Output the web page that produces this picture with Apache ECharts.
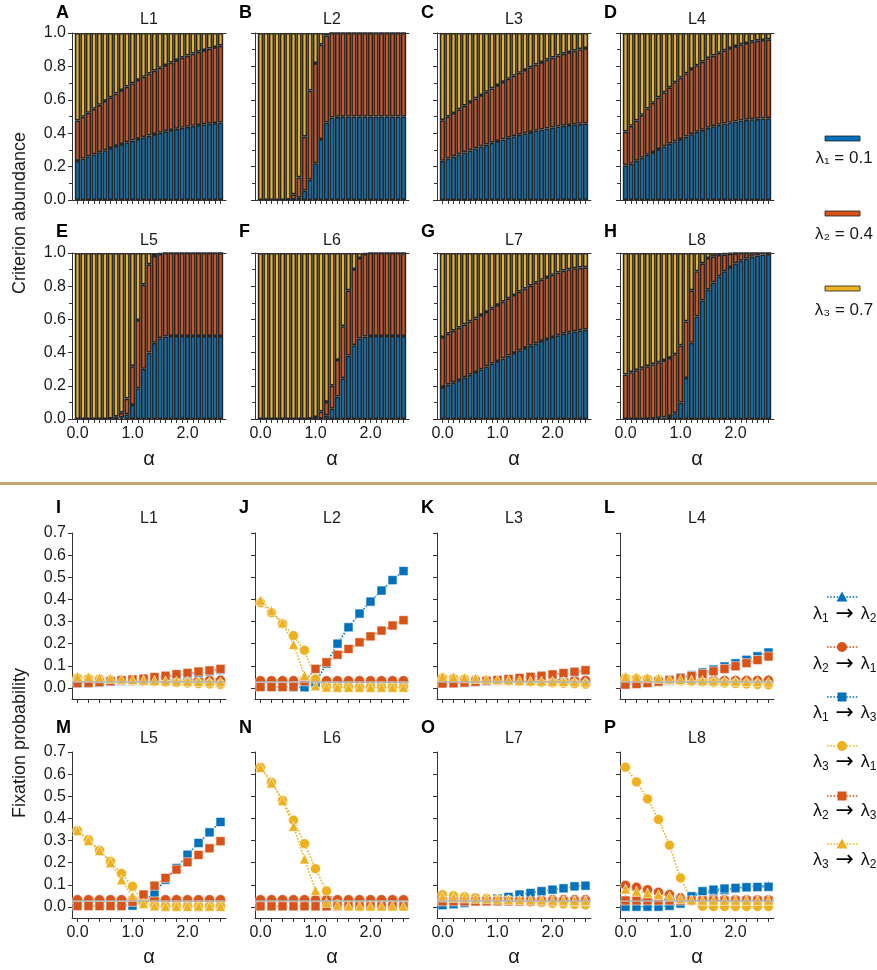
<!DOCTYPE html>
<html><head><meta charset="utf-8">
<script src="https://cdn.jsdelivr.net/npm/echarts@6/dist/echarts.min.js"></script>
<style>html,body{margin:0;padding:0;background:#fff}#c{width:877px;height:970px}</style>
</head><body><div id="c"></div>
<script>
// ---------- x values ----------
const alphaBar = [0.0,0.1,0.2,0.3,0.4,0.5,0.6,0.7,0.8,0.9,1.0,1.1,1.2,1.3,1.4,1.5,1.6,1.7,1.8,1.9,2.0,2.1,2.2,2.3,2.4,2.5,2.6];
const alphaPts = [0.0,0.2,0.4,0.6,0.8,1.0,1.2,1.4,1.6,1.8,2.0,2.2,2.4,2.6];
const xLabelVals = [0, 1, 2];
const fixYTicks = [0, 0.1, 0.2, 0.3, 0.4, 0.5, 0.6, 0.7];
const neutral = 0.025;

// ---------- criterion abundance (share of lambda1, lambda2; lambda3 is the remainder) ----------
const L1_lam1 = [0.234,0.248,0.262,0.274,0.286,0.298,0.311,0.324,0.335,0.346,0.356,0.366,0.376,0.386,0.395,0.403,0.411,0.419,0.426,0.432,0.438,0.444,0.449,0.453,0.457,0.461,0.464];
const L1_lam2 = [0.242,0.250,0.260,0.272,0.284,0.295,0.304,0.313,0.323,0.333,0.343,0.353,0.362,0.371,0.380,0.389,0.397,0.404,0.412,0.420,0.427,0.433,0.439,0.445,0.450,0.455,0.460];
const L2_lam1 = [0,0,0,0,0,0,0.002,0.014,0.056,0.122,0.220,0.365,0.464,0.494,0.498,0.499,0.500,0.500,0.500,0.500,0.500,0.500,0.500,0.500,0.500,0.500,0.500];
const L2_lam2 = [0,0,0,0,0,0.002,0.032,0.121,0.324,0.533,0.600,0.565,0.521,0.506,0.502,0.501,0.500,0.500,0.500,0.500,0.500,0.500,0.500,0.500,0.500,0.500,0.500];
const L3_lam1 = [0.235,0.248,0.261,0.273,0.285,0.297,0.309,0.321,0.332,0.343,0.353,0.363,0.373,0.382,0.391,0.399,0.407,0.415,0.422,0.428,0.434,0.440,0.445,0.449,0.453,0.456,0.458];
const L3_lam2 = [0.243,0.251,0.260,0.270,0.280,0.290,0.299,0.307,0.316,0.325,0.335,0.344,0.353,0.362,0.371,0.380,0.388,0.396,0.404,0.412,0.419,0.425,0.431,0.437,0.442,0.447,0.452];
const L4_lam1 = [0.207,0.217,0.235,0.253,0.271,0.287,0.305,0.321,0.337,0.351,0.365,0.380,0.394,0.408,0.420,0.432,0.442,0.450,0.458,0.464,0.470,0.476,0.480,0.484,0.486,0.488,0.490];
const L4_lam2 = [0.203,0.227,0.241,0.257,0.277,0.295,0.309,0.324,0.338,0.354,0.368,0.379,0.391,0.399,0.409,0.417,0.423,0.431,0.438,0.446,0.452,0.456,0.460,0.464,0.468,0.470,0.472];
const L5_lam1 = [0,0,0,0,0,0,0,0.002,0.008,0.028,0.085,0.185,0.302,0.400,0.459,0.487,0.497,0.500,0.500,0.500,0.500,0.500,0.500,0.500,0.500,0.500,0.500];
const L5_lam2 = [0,0,0,0,0,0,0.002,0.012,0.030,0.095,0.233,0.411,0.507,0.532,0.523,0.507,0.503,0.500,0.500,0.500,0.500,0.500,0.500,0.500,0.500,0.500,0.500];
const L6_lam1 = [0,0,0,0,0,0,0,0,0,0,0,0.003,0.022,0.062,0.135,0.245,0.382,0.445,0.485,0.497,0.500,0.500,0.500,0.500,0.500,0.500,0.500];
const L6_lam2 = [0,0,0,0,0,0,0,0,0,0.002,0.012,0.041,0.081,0.139,0.221,0.314,0.393,0.458,0.485,0.497,0.500,0.500,0.500,0.500,0.500,0.500,0.500];
const L7_lam1 = [0.193,0.207,0.221,0.235,0.251,0.267,0.283,0.299,0.317,0.333,0.349,0.365,0.382,0.398,0.414,0.428,0.442,0.456,0.470,0.482,0.494,0.504,0.514,0.522,0.528,0.534,0.538];
const L7_lam2 = [0.301,0.307,0.311,0.315,0.319,0.321,0.323,0.328,0.328,0.334,0.338,0.342,0.345,0.349,0.353,0.357,0.361,0.365,0.369,0.373,0.375,0.378,0.380,0.380,0.380,0.378,0.376];
const L8_lam1 = [0,0,0,0,0.001,0.002,0.005,0.010,0.018,0.035,0.099,0.247,0.459,0.618,0.714,0.779,0.823,0.860,0.890,0.915,0.937,0.954,0.967,0.977,0.985,0.990,0.994];
const L8_lam2 = [0.268,0.282,0.294,0.306,0.317,0.328,0.337,0.345,0.350,0.355,0.344,0.341,0.316,0.272,0.224,0.191,0.157,0.128,0.102,0.081,0.061,0.046,0.033,0.023,0.015,0.010,0.006];

// ---------- fixation probabilities ----------
const L1_f12 = [0.035,0.035,0.035,0.035,0.035,0.035,0.035,0.036,0.036,0.037,0.037,0.038,0.039,0.040];
const L1_f21 = [0.032,0.032,0.032,0.032,0.033,0.033,0.033,0.033,0.033,0.034,0.034,0.034,0.035,0.035];
const L1_f13 = [0.020,0.021,0.024,0.028,0.032,0.036,0.040,0.045,0.050,0.056,0.062,0.068,0.075,0.082];
const L1_f31 = [0.045,0.042,0.040,0.037,0.035,0.032,0.030,0.028,0.026,0.024,0.022,0.020,0.018,0.016];
const L1_f23 = [0.022,0.023,0.026,0.030,0.035,0.038,0.042,0.049,0.055,0.062,0.068,0.074,0.079,0.086];
const L1_f32 = [0.052,0.049,0.046,0.043,0.040,0.038,0.036,0.034,0.032,0.031,0.030,0.029,0.028,0.027];

const L2_f12 = [0.036,0.036,0.036,0.036,0.036,0.036,0.036,0.036,0.036,0.036,0.036,0.036,0.036,0.036];
const L2_f21 = [0.033,0.033,0.033,0.033,0.033,0.033,0.033,0.033,0.033,0.033,0.033,0.033,0.033,0.033];
const L2_f13 = [0.004,0.004,0.004,0.003,0.003,0.023,0.110,0.200,0.274,0.336,0.390,0.440,0.487,0.528];
const L2_f31 = [0.385,0.340,0.290,0.236,0.170,0.040,0.005,0.004,0.003,0.003,0.003,0.003,0.003,0.003];
const L2_f23 = [0.004,0.004,0.004,0.005,0.030,0.086,0.116,0.150,0.176,0.206,0.233,0.259,0.282,0.306];
const L2_f32 = [0.396,0.349,0.294,0.196,0.056,0.010,0.004,0.003,0.003,0.003,0.003,0.003,0.003,0.003];

const L3_f12 = [0.035,0.035,0.035,0.035,0.035,0.035,0.036,0.036,0.036,0.037,0.037,0.038,0.038,0.039];
const L3_f21 = [0.032,0.032,0.032,0.032,0.033,0.033,0.033,0.033,0.033,0.033,0.034,0.034,0.034,0.034];
const L3_f13 = [0.020,0.021,0.023,0.027,0.031,0.035,0.039,0.043,0.048,0.053,0.059,0.065,0.071,0.078];
const L3_f31 = [0.045,0.043,0.040,0.038,0.035,0.033,0.031,0.029,0.027,0.025,0.023,0.021,0.019,0.017];
const L3_f23 = [0.020,0.021,0.024,0.028,0.032,0.036,0.040,0.045,0.050,0.055,0.061,0.067,0.073,0.080];
const L3_f32 = [0.052,0.049,0.046,0.043,0.040,0.038,0.036,0.034,0.032,0.031,0.030,0.029,0.028,0.027];

const L4_f12 = [0.035,0.035,0.035,0.035,0.035,0.036,0.036,0.037,0.037,0.038,0.038,0.039,0.039,0.040];
const L4_f21 = [0.032,0.032,0.032,0.032,0.033,0.033,0.033,0.033,0.033,0.034,0.034,0.034,0.034,0.035];
const L4_f13 = [0.016,0.019,0.023,0.029,0.037,0.047,0.058,0.070,0.083,0.097,0.111,0.127,0.143,0.160];
const L4_f31 = [0.045,0.042,0.040,0.037,0.034,0.032,0.029,0.027,0.025,0.022,0.020,0.018,0.016,0.014];
const L4_f23 = [0.015,0.018,0.022,0.028,0.036,0.044,0.054,0.064,0.075,0.086,0.098,0.112,0.126,0.142];
const L4_f32 = [0.052,0.049,0.046,0.043,0.040,0.038,0.036,0.034,0.032,0.031,0.030,0.029,0.028,0.027];

const L5_f12 = [0.036,0.036,0.036,0.036,0.036,0.036,0.036,0.036,0.036,0.036,0.036,0.036,0.036,0.036];
const L5_f21 = [0.033,0.033,0.033,0.033,0.033,0.033,0.033,0.033,0.033,0.033,0.033,0.033,0.033,0.033];
const L5_f13 = [0.004,0.004,0.004,0.004,0.004,0.006,0.025,0.066,0.123,0.176,0.236,0.289,0.337,0.384];
const L5_f31 = [0.345,0.304,0.256,0.205,0.151,0.093,0.020,0.005,0.003,0.003,0.003,0.003,0.003,0.003];
const L5_f23 = [0.004,0.004,0.004,0.004,0.004,0.023,0.056,0.096,0.131,0.169,0.202,0.235,0.265,0.297];
const L5_f32 = [0.345,0.300,0.255,0.200,0.123,0.048,0.015,0.005,0.003,0.003,0.003,0.003,0.003,0.003];

const L6_f12 = [0.036,0.036,0.036,0.036,0.036,0.036,0.036,0.036,0.036,0.036,0.036,0.036,0.036,0.036];
const L6_f21 = [0.033,0.033,0.033,0.033,0.033,0.033,0.033,0.033,0.033,0.033,0.033,0.033,0.033,0.033];
const L6_f13 = [0.003,0.003,0.003,0.003,0.003,0.003,0.003,0.003,0.003,0.003,0.003,0.003,0.003,0.003];
const L6_f31 = [0.631,0.563,0.482,0.392,0.286,0.173,0.072,0.010,0.005,0.004,0.004,0.004,0.004,0.004];
const L6_f23 = [0.003,0.003,0.003,0.003,0.003,0.003,0.003,0.003,0.003,0.003,0.003,0.003,0.003,0.003];
const L6_f32 = [0.630,0.560,0.480,0.364,0.217,0.075,0.020,0.008,0.005,0.004,0.004,0.004,0.004,0.004];

const L7_f12 = [0.035,0.035,0.035,0.035,0.035,0.035,0.035,0.035,0.035,0.035,0.035,0.035,0.035,0.035];
const L7_f21 = [0.033,0.033,0.033,0.033,0.033,0.033,0.033,0.033,0.033,0.033,0.033,0.033,0.033,0.033];
const L7_f13 = [0.008,0.012,0.018,0.024,0.030,0.038,0.045,0.056,0.063,0.071,0.078,0.084,0.093,0.096];
const L7_f31 = [0.055,0.050,0.046,0.042,0.038,0.034,0.030,0.026,0.022,0.019,0.016,0.013,0.011,0.009];
const L7_f23 = [0.025,0.025,0.025,0.025,0.025,0.025,0.025,0.025,0.025,0.025,0.025,0.025,0.025,0.025];
const L7_f32 = [0.045,0.043,0.041,0.039,0.037,0.035,0.034,0.033,0.032,0.031,0.030,0.030,0.029,0.029];

const L8_f12 = [0.035,0.035,0.035,0.035,0.035,0.037,0.045,0.060,0.070,0.078,0.085,0.090,0.094,0.097];
const L8_f21 = [0.098,0.089,0.078,0.066,0.056,0.041,0.033,0.033,0.033,0.033,0.033,0.033,0.033,0.033];
const L8_f13 = [0.001,0.001,0.001,0.001,0.005,0.015,0.048,0.071,0.078,0.083,0.086,0.089,0.090,0.091];
const L8_f31 = [0.631,0.565,0.488,0.395,0.279,0.131,0.026,0.003,0.002,0.002,0.002,0.002,0.002,0.002];
const L8_f23 = [0.029,0.029,0.029,0.029,0.029,0.029,0.029,0.029,0.029,0.029,0.029,0.029,0.029,0.029];
const L8_f32 = [0.081,0.071,0.063,0.056,0.048,0.038,0.032,0.030,0.030,0.030,0.030,0.030,0.030,0.030];

// ---------- panel lists ----------
const barPanels = [
  ['A','L1',L1_lam1,L1_lam2],['B','L2',L2_lam1,L2_lam2],['C','L3',L3_lam1,L3_lam2],['D','L4',L4_lam1,L4_lam2],
  ['E','L5',L5_lam1,L5_lam2],['F','L6',L6_lam1,L6_lam2],['G','L7',L7_lam1,L7_lam2],['H','L8',L8_lam1,L8_lam2]
];
const fixPanels = [
  ['I','L1',[L1_f12,L1_f21,L1_f13,L1_f31,L1_f23,L1_f32]],
  ['J','L2',[L2_f12,L2_f21,L2_f13,L2_f31,L2_f23,L2_f32]],
  ['K','L3',[L3_f12,L3_f21,L3_f13,L3_f31,L3_f23,L3_f32]],
  ['L','L4',[L4_f12,L4_f21,L4_f13,L4_f31,L4_f23,L4_f32]],
  ['M','L5',[L5_f12,L5_f21,L5_f13,L5_f31,L5_f23,L5_f32]],
  ['N','L6',[L6_f12,L6_f21,L6_f13,L6_f31,L6_f23,L6_f32]],
  ['O','L7',[L7_f12,L7_f21,L7_f13,L7_f31,L7_f23,L7_f32]],
  ['P','L8',[L8_f12,L8_f21,L8_f13,L8_f31,L8_f23,L8_f32]]
];
const lamLabels = ['λ₁ = 0.1','λ₂ = 0.4','λ₃ = 0.7'];
const fixNames = [['1','2'],['2','1'],['1','3'],['3','1'],['2','3'],['3','2']];

// ---------- styling ----------
const C1 = '#0072BD', C2 = '#D95319', C3 = '#EDB120';
const lamColors = [C1, C2, C3];
const fixColors = [C1, C2, C1, C3, C2, C3];
const fixSymbols = ['triangle','circle','rect','circle','rect','triangle'];
const FONT = "'Liberation Sans', Arial, Helvetica, sans-serif";
const AX = '#333';
const COLS = [72, 255, 437, 620];
const W = 154;
const XMIN = -0.1, XMAX = 2.7;
const ROWS = [[33,200],[253,419],[533,699],[752,918]];
const TITLE_Y = [20, 241, 519, 739];
const LETTER_Y = [13, 232, 508, 728];

const option = {animation:false, grid:[], xAxis:[], yAxis:[], series:[], graphic:[]};

function addGrid(row, left, width){
  const [t,b] = ROWS[row];
  option.grid.push({left:left, top:t, width:width, height:b-t, containLabel:false, outerBoundsMode:'none'});
  return option.grid.length-1;
}
function txt(x, y, text, size, extra){
  option.graphic.push({type:'text', x, y, silent:true,
    style:Object.assign({text, fontSize:size, fontFamily:FONT, fill:'#1a1a1a', textAlign:'center', textVerticalAlign:'middle'}, extra||{})});
}
const labelStyle = {color:'#1a1a1a', fontSize:16, fontFamily:FONT};

// bar panels
const pxPerUnit = W / (XMAX - XMIN);
const catW = 0.1 * pxPerUnit;
barPanels.forEach((p, i) => {
  const row = i < 4 ? 0 : 1, col = i % 4;
  // bar layer: category axis aligned so that category centres sit on the alpha values
  const bl = COLS[col] + (alphaBar[0] - XMIN) * pxPerUnit - catW / 2;
  const g2 = addGrid(row, bl, catW * alphaBar.length);
  const xi = option.xAxis.length;
  option.xAxis.push({type:'category', gridIndex:g2, data:alphaBar.map(a=>a.toFixed(1)), show:false});
  const yi = option.yAxis.length;
  option.yAxis.push({type:'value', gridIndex:g2, min:0, max:1, show:false, splitLine:{show:false}});
  const a1 = p[2], a2 = p[3];
  const a3 = a1.map((v,k) => Math.max(0, +(1 - v - a2[k]).toFixed(3)));
  [a1, a2, a3].forEach((arr, s) => {
    option.series.push({type:'bar', xAxisIndex:xi, yAxisIndex:yi, stack:'st'+i, silent:true,
      barWidth:5.4, itemStyle:{color:lamColors[s], borderColor:'#262626', borderWidth:1.6},
      data: arr.slice()});
  });
  // visible axes (value scale)
  const g = addGrid(row, COLS[col], W);
  option.xAxis.push({type:'value', gridIndex:g, min:XMIN, max:XMAX, position:'bottom', z:5,
    axisLine:{show:true, onZero:false, lineStyle:{color:AX, width:1}},
    axisTick:{show:true, customValues:alphaBar, length:4, lineStyle:{color:AX}},
    axisLabel:Object.assign({show: row===1, customValues:xLabelVals, formatter:v=>v.toFixed(1), margin:7}, labelStyle),
    splitLine:{show:false}});
  option.xAxis.push({type:'value', gridIndex:g, min:XMIN, max:XMAX, position:'top', z:5,
    axisLine:{show:true, onZero:false, lineStyle:{color:AX, width:1}},
    axisTick:{show:false}, axisLabel:{show:false}, splitLine:{show:false}});
  option.yAxis.push({type:'value', gridIndex:g, min:0, max:1, interval:0.2, z:5,
    axisLine:{show:true, onZero:false, lineStyle:{color:AX, width:1}},
    axisTick:{show:true, length:4, lineStyle:{color:AX}},
    minorTick:{show:true, splitNumber:2, length:3, lineStyle:{color:AX}},
    axisLabel:Object.assign({show: col===0, formatter:v=>v.toFixed(1), margin:6}, labelStyle),
    splitLine:{show:false}, minorSplitLine:{show:false}});
  txt(COLS[col]+77, TITLE_Y[row], p[1], 16);
  txt(COLS[col]-16, LETTER_Y[row], p[0], 18, {fontWeight:'bold', textAlign:'left', fill:'#000'});
  if (row === 1) txt(COLS[col]+77, 459, 'α', 20);
});

// fixation panels
fixPanels.forEach((p, i) => {
  const row = i < 4 ? 2 : 3, col = i % 4;
  const g = addGrid(row, COLS[col], W);
  const xi = option.xAxis.length;
  option.xAxis.push({type:'value', gridIndex:g, min:XMIN, max:XMAX, position:'bottom',
    axisLine:{show:true, onZero:false, lineStyle:{color:AX, width:1}},
    axisTick:{show:true, customValues:alphaPts, length:4, lineStyle:{color:AX}},
    axisLabel:Object.assign({show: row===3, customValues:xLabelVals, formatter:v=>v.toFixed(1), margin:7}, labelStyle),
    splitLine:{show:false}});
  const yi = option.yAxis.length;
  option.yAxis.push({type:'value', gridIndex:g, min:-0.05, max:0.7,
    axisLine:{show:true, onZero:false, lineStyle:{color:AX, width:1}},
    axisTick:{show:true, customValues:fixYTicks, length:4, lineStyle:{color:AX}},
    axisLabel:Object.assign({show: col===0, customValues:fixYTicks, formatter:v=>v.toFixed(1), margin:6}, labelStyle),
    splitLine:{show:false}});
  p[2].forEach((arr, s) => {
    const ser = {type:'line', xAxisIndex:xi, yAxisIndex:yi, silent:true,
      symbol:fixSymbols[s], symbolSize: fixSymbols[s]==='rect' ? 9 : 10, showSymbol:true,
      lineStyle:{type:'dotted', width:1.6, color:fixColors[s]},
      itemStyle:{color:fixColors[s], borderColor:'rgba(255,255,255,0.55)', borderWidth:1},
      data: alphaPts.map((a,k) => [a, arr[k]])};
    if (s === 0) ser.markLine = {silent:true, symbol:'none', label:{show:false},
      lineStyle:{color:'#b4b4b4', width:1.5, type:'solid'}, data:[{yAxis:neutral}]};
    option.series.push(ser);
  });
  txt(COLS[col]+77, TITLE_Y[row], p[1], 16);
  txt(COLS[col]-16, LETTER_Y[row], p[0], 18, {fontWeight:'bold', textAlign:'left', fill:'#000'});
  if (row === 3) txt(COLS[col]+77, 957, 'α', 20);
});

// axis titles
option.graphic.push({type:'text', x:20, y:213, rotation:Math.PI/2, silent:true,
  style:{text:'Criterion abundance', fontSize:18, fontFamily:FONT, fill:'#1a1a1a', textAlign:'center', textVerticalAlign:'middle'}});
option.graphic.push({type:'text', x:20, y:743, rotation:Math.PI/2, silent:true,
  style:{text:'Fixation probability', fontSize:18, fontFamily:FONT, fill:'#1a1a1a', textAlign:'center', textVerticalAlign:'middle'}});

// separator
option.graphic.push({type:'line', silent:true, shape:{x1:0, y1:483.5, x2:877, y2:483.5}, style:{stroke:'#C4A574', lineWidth:3}});

// top legend
const swY = [136, 211, 286], swTY = [158, 234, 310];
lamLabels.forEach((t, k) => {
  option.graphic.push({type:'rect', silent:true, shape:{x:825, y:swY[k], width:35, height:5},
    style:{fill:lamColors[k], stroke:'#222', lineWidth:0.8}});
  txt(844, swTY[k], t, 17);
});

// bottom legend
const lgMY = [597, 647, 697, 746, 796, 844], lgTY = [614, 664, 713, 762, 811, 860];
fixNames.forEach((nm, k) => {
  const c = fixColors[k], y = lgMY[k];
  option.graphic.push({type:'line', silent:true, shape:{x1:827, y1:y, x2:858, y2:y},
    style:{stroke:c, lineWidth:1.6, lineDash:[1.6,1.6]}});
  const sym = fixSymbols[k];
  if (sym === 'circle') option.graphic.push({type:'circle', silent:true, shape:{cx:842, cy:y, r:5}, style:{fill:c}});
  else if (sym === 'rect') option.graphic.push({type:'rect', silent:true, shape:{x:837.5, y:y-4.5, width:9, height:9}, style:{fill:c}});
  else option.graphic.push({type:'polygon', silent:true, shape:{points:[[842,y-5.5],[847.5,y+4.5],[836.5,y+4.5]]}, style:{fill:c}});
  option.graphic.push({type:'text', x:813, y:lgTY[k], silent:true, style:{
    text:'{l|λ}{s|'+nm[0]+'}{a|→}{l|λ}{s|'+nm[1]+'}', textAlign:'left', textVerticalAlign:'middle',
    rich:{
      l:{fontSize:18, fontFamily:FONT, fill:'#111', lineHeight:22, verticalAlign:'middle'},
      s:{fontSize:12, fontFamily:FONT, fill:'#111', lineHeight:22, verticalAlign:'bottom'},
      a:{fontSize:22, fontFamily:'DejaVu Sans', fill:'#000', lineHeight:22, width:32, align:'center', verticalAlign:'middle'}
    }}});
});

const chart = echarts.init(document.getElementById('c'), null, {renderer:'canvas'});
chart.setOption(option);
</script>
</body></html>
